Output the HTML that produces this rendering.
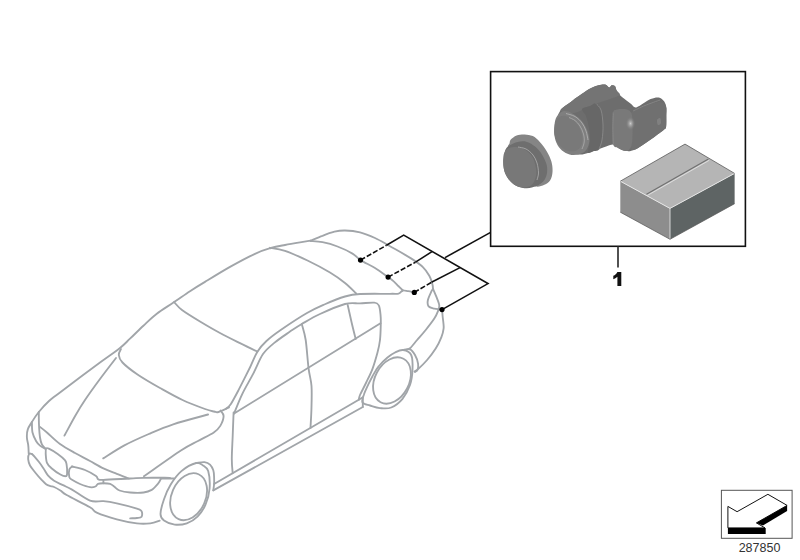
<!DOCTYPE html>
<html><head><meta charset="utf-8"><style>
html,body{margin:0;padding:0;background:#fff;width:800px;height:560px;overflow:hidden}
svg{display:block;position:absolute;left:0;top:0}
.t{font-family:"Liberation Sans",sans-serif}
</style></head><body>
<svg width="800" height="560" viewBox="0 0 800 560">
<defs>
<linearGradient id="gface" x1="0" y1="0" x2="1" y2="1"><stop offset="0" stop-color="#8a8a8a"/><stop offset="1" stop-color="#6a6a6a"/></linearGradient>
</defs>
<g fill="none" stroke="#a1a5a9" stroke-width="1.85" stroke-linecap="round" stroke-linejoin="round">
<path d="M28.7,453.4 C28.6,452.0 28.6,447.6 28.2,445.0 C27.9,442.4 27.0,440.1 26.9,437.5 C26.8,434.9 26.9,432.0 27.8,429.4 C28.6,426.8 30.1,424.9 31.9,422.0 C33.7,419.1 35.9,415.5 38.8,412.0 C41.6,408.5 45.5,404.2 49.0,401.0 C52.5,397.8 51.5,398.9 60.0,392.5 C68.5,386.1 90.0,369.9 100.0,362.5 C110.0,355.1 115.0,352.0 120.0,348.0 C125.0,344.0 126.1,342.4 130.0,338.7 C133.9,335.0 138.9,329.9 143.4,325.7 C147.9,321.5 151.7,317.6 156.8,313.7 C161.9,309.8 168.6,305.9 174.1,302.1 C179.6,298.4 184.8,294.6 190.0,291.2 C195.2,287.8 198.3,285.9 205.0,281.9 C211.7,277.8 221.7,271.6 230.0,266.9 C238.3,262.2 248.2,256.9 255.0,253.8 C261.8,250.6 266.0,249.5 271.0,248.0 C276.0,246.5 280.2,245.9 285.0,245.0 C289.8,244.1 295.8,243.1 300.0,242.4 C304.2,241.7 308.8,241.0 310.5,240.7"/>
<path d="M310.5,240.7 C312.5,239.9 318.5,237.2 322.5,235.8 C326.5,234.2 330.8,232.6 334.5,231.7 C338.2,230.8 340.8,230.4 345.0,230.5 C349.2,230.6 355.0,231.1 360.0,232.3 C365.0,233.6 370.0,235.7 375.0,238.0 C380.0,240.3 383.9,242.8 390.0,246.2 C396.1,249.7 405.9,255.1 411.4,258.6 C416.9,262.1 419.9,264.2 422.9,267.1 C425.9,270.0 427.8,273.1 429.3,275.7 C430.8,278.3 431.5,280.8 432.1,282.9 C432.7,285.0 433.0,287.2 432.9,288.6 C432.8,290.0 432.2,289.5 431.4,291.4 C430.6,293.3 428.4,297.5 427.9,300.0 C427.4,302.5 427.5,305.0 428.6,306.4 C429.7,307.8 432.4,308.1 434.3,308.6 C436.2,309.1 438.7,309.1 440.0,309.3 C441.3,309.5 441.8,309.6 442.1,309.7"/>
<path d="M432.9,288.6 C433.6,290.3 436.0,295.8 437.1,298.6 C438.2,301.5 439.2,303.6 439.3,305.7 C439.4,307.8 438.7,309.2 437.9,311.4 C437.1,313.5 436.3,315.5 434.3,318.6 C432.3,321.7 428.6,326.4 425.7,330.0 C422.8,333.6 419.7,337.0 417.1,340.0 C414.5,343.0 411.9,346.6 410.0,348.2 C408.1,349.8 406.2,349.5 405.5,349.8"/>
<path d="M442.1,309.7 C442.2,310.8 442.4,313.8 442.6,316.0 C442.8,318.2 443.2,320.9 443.4,323.0 C443.6,325.1 443.9,326.2 443.6,328.6 C443.3,331.0 442.7,333.8 441.4,337.1 C440.1,340.4 438.1,344.8 435.7,348.6 C433.3,352.4 430.0,356.7 427.1,360.0 C424.2,363.3 420.7,366.7 418.6,368.6 C416.5,370.5 415.2,370.9 414.5,371.4"/>
<path d="M310.5,241.0 C312.5,241.2 318.0,241.3 322.5,242.2 C327.0,243.1 332.5,244.6 337.5,246.5 C342.5,248.4 348.7,251.3 352.5,253.6 C356.3,255.9 356.8,257.7 360.5,260.1 C364.2,262.5 370.4,265.2 375.0,268.0 C379.6,270.8 384.9,274.9 388.0,277.1 C391.1,279.3 391.9,279.9 393.7,281.4 C395.5,282.9 397.1,284.9 398.6,286.3 C400.1,287.7 401.0,289.2 402.6,290.0 C404.2,290.8 406.2,290.8 408.2,291.2 C410.1,291.6 413.3,292.2 414.3,292.4"/>
<path d="M270.0,247.8 C272.5,248.2 278.8,248.6 285.0,250.8 C291.2,252.9 300.0,256.9 307.5,260.5 C315.0,264.1 323.8,268.8 330.0,272.5 C336.2,276.2 340.6,279.5 345.0,283.0 C349.4,286.5 354.4,291.8 356.2,293.5"/>
<path d="M226.1,408.7 C226.9,407.9 228.8,407.1 230.9,403.9 C233.0,400.7 235.7,395.5 238.9,389.4 C242.1,383.2 247.1,373.3 250.2,367.0 C253.3,360.7 254.7,356.0 257.4,351.7 C260.1,347.4 262.3,344.8 266.2,341.2 C270.1,337.6 273.9,334.7 280.7,330.0 C287.5,325.3 299.5,317.3 307.0,313.0 C314.5,308.7 319.2,306.8 325.5,304.0 C331.8,301.2 339.2,298.2 345.0,296.5 C350.8,294.8 352.5,294.4 360.0,294.0 C367.5,293.6 383.6,293.9 390.0,293.8 C396.4,293.7 396.7,294.0 398.6,293.6 C400.5,293.2 400.7,291.9 401.4,291.4 C402.1,290.9 402.6,290.8 402.9,290.7"/>
<path d="M234.1,413.5 C235.4,410.3 238.9,401.0 242.1,394.3 C245.3,387.6 249.9,380.1 253.4,373.4 C256.9,366.7 259.5,359.2 263.0,354.1 C266.5,349.0 269.8,346.6 274.3,342.9 C278.8,339.1 285.4,334.8 290.0,331.6 C294.6,328.5 296.8,326.9 301.8,324.0 C306.8,321.1 312.8,317.3 320.0,314.0 C327.2,310.7 338.3,305.8 345.0,304.0 C351.7,302.2 355.1,303.6 360.0,303.4 C364.9,303.2 371.2,302.4 374.3,302.7 C377.4,303.0 377.7,303.5 378.8,305.4 C379.8,307.3 380.2,311.3 380.5,314.3 C380.8,317.3 380.9,318.9 380.8,323.2 C380.7,327.5 380.6,335.1 380.0,340.0 C379.4,344.9 378.8,347.7 377.5,352.5 C376.2,357.3 374.4,363.8 372.5,368.8 C370.6,373.8 368.3,378.1 366.2,382.5 C364.2,386.9 361.2,392.1 360.0,395.0 C358.8,397.9 359.0,398.9 358.8,399.7"/>
<path d="M347.7,305.0 C348.3,307.8 350.2,316.3 351.5,322.0 C352.8,327.7 355.0,336.2 355.7,339.0"/>
<path d="M301.8,324.0 C302.4,326.7 304.6,332.6 305.7,340.0 C306.8,347.4 307.6,360.9 308.6,368.6 C309.6,376.3 311.0,379.1 311.5,386.0 C312.0,392.9 311.6,403.0 311.4,410.0 C311.2,417.0 310.6,424.9 310.5,427.9"/>
<path d="M234.1,413.5 L380.5,323.2"/>
<path d="M174.1,302.1 C175.4,303.4 177.7,306.8 182.0,310.0 C186.3,313.2 193.7,317.7 200.0,321.5 C206.3,325.3 213.3,329.4 220.0,333.0 C226.7,336.6 233.8,340.1 240.0,343.2 C246.2,346.3 254.5,350.3 257.4,351.7"/>
<path d="M121.0,349.0 C120.6,350.0 118.5,352.8 118.8,355.0 C119.0,357.2 119.4,359.2 122.5,362.5 C125.6,365.8 131.2,370.2 137.5,374.5 C143.8,378.8 152.5,383.8 160.0,388.0 C167.5,392.2 175.0,396.5 182.5,400.0 C190.0,403.5 199.8,407.1 205.0,409.0 C210.2,410.9 211.8,411.0 214.0,411.5 C216.2,412.0 216.0,412.7 218.5,412.0 C221.0,411.3 227.2,408.2 229.0,407.5"/>
<path d="M220.5,410.5 C221.0,411.4 223.6,413.5 223.6,416.1 C223.6,418.7 221.9,423.2 220.3,425.9 C218.7,428.6 217.5,429.9 213.8,432.4 C210.1,434.9 203.4,438.0 198.0,441.0 C192.6,444.0 190.3,444.4 181.3,450.3 C172.3,456.2 150.1,472.0 143.9,476.3"/>
<path d="M233.6,412.5 C233.4,416.4 233.0,428.0 232.7,435.7 C232.4,443.4 231.8,452.6 231.8,458.9 C231.8,465.1 232.5,470.8 232.7,473.2"/>
<path d="M214.1,484.0 L358.8,399.7 L362.8,397.3 L362.8,407.0"/>
<path d="M213.3,490.4 L362.8,407.0"/>
<path d="M403.1,350.0 C404.2,349.9 408.0,348.6 410.0,349.4 C412.0,350.2 413.6,352.6 415.0,355.0 C416.4,357.4 417.7,361.2 418.1,363.8 C418.5,366.2 418.0,368.6 417.5,370.0 C417.0,371.4 415.4,371.6 415.0,371.9"/>
<path d="M116.0,358.0 C113.3,361.5 105.2,372.0 100.0,379.0 C94.8,386.0 89.2,393.8 85.0,400.0 C80.8,406.2 78.4,410.3 75.0,416.2 C71.6,422.2 66.2,432.4 64.4,435.6"/>
<path d="M103.2,458.4 C106.8,456.2 116.8,449.5 124.4,445.4 C132.0,441.3 140.7,437.5 148.8,434.0 C156.9,430.5 163.3,427.6 173.2,424.3 C183.1,421.1 202.3,416.1 208.1,414.5"/>
<path d="M38.8,411.9 C38.8,414.1 38.8,420.7 39.0,425.0 C39.2,429.3 39.5,434.3 40.0,437.5 C40.5,440.7 41.0,442.5 41.9,444.4 C42.8,446.2 44.7,447.9 45.2,448.6"/>
<path d="M31.9,421.9 C32.0,423.7 31.8,429.3 32.5,432.5 C33.2,435.7 35.0,439.1 36.2,441.2 C37.5,443.4 38.5,444.4 40.0,445.6 C41.5,446.8 44.3,448.1 45.2,448.6"/>
<path d="M40.0,426.9 C41.2,427.9 44.2,430.1 47.5,433.0 C50.8,435.9 55.4,440.7 60.0,444.0 C64.6,447.3 70.0,450.2 75.0,453.0 C80.0,455.8 85.3,458.4 90.0,461.0 C94.7,463.6 98.9,466.3 103.4,468.4 C107.9,470.5 112.5,472.1 116.8,473.8 C121.0,475.5 126.9,477.7 128.9,478.5"/>
<path d="M46.1,448.6 C46.6,447.7 46.9,447.7 48.8,448.6 C50.7,449.5 55.0,452.0 57.7,453.9 C60.4,455.8 63.4,458.4 64.9,460.2 C66.4,462.0 66.2,462.4 66.6,464.6 C67.0,466.8 67.2,471.7 67.1,473.6 C67.0,475.5 66.9,476.1 65.8,476.2 C64.6,476.4 62.8,475.8 60.4,474.5 C58.0,473.2 53.7,470.1 51.5,468.2 C49.3,466.3 48.0,465.3 47.0,462.9 C46.0,460.5 45.9,456.3 45.7,453.9 C45.6,451.5 45.6,449.5 46.1,448.6Z"/>
<path d="M72.0,466.5 C74.2,467.1 81.0,468.4 85.0,470.0 C89.0,471.6 93.8,474.5 96.0,476.0 C98.2,477.5 96.8,478.5 98.0,479.1 C99.2,479.7 98.0,479.9 103.4,479.8 C108.8,479.7 123.5,478.8 130.2,478.5 C136.9,478.2 137.0,477.9 143.6,477.8 C150.2,477.7 165.6,477.8 170.0,477.8"/>
<path d="M72.0,466.5 C71.5,467.0 69.8,467.7 69.3,469.5 C68.8,471.3 68.8,475.4 69.3,477.1 C69.8,478.8 70.2,478.7 72.0,479.8 C73.8,480.9 77.0,482.8 80.0,484.0 C83.0,485.2 87.4,486.8 90.0,487.2 C92.6,487.6 94.1,487.1 95.4,486.5 C96.7,485.9 96.7,484.4 98.0,483.8 C99.3,483.2 101.4,483.2 103.4,483.2 C105.4,483.2 108.3,483.2 110.1,483.8 C111.9,484.4 112.5,485.4 114.1,486.5 C115.7,487.6 116.8,489.5 119.5,490.5 C122.2,491.5 126.2,492.2 130.2,492.5 C134.2,492.8 140.0,492.9 143.6,492.5 C147.2,492.1 149.2,491.4 151.7,489.9 C154.2,488.3 156.8,485.1 158.4,483.2 C160.0,481.3 160.6,479.3 161.0,478.5"/>
<path d="M103.4,479.8 C103.4,480.4 103.4,482.6 103.4,483.2"/>
<path d="M31.8,453.9 C32.2,454.3 33.3,455.2 34.5,456.6 C35.7,458.0 37.5,460.1 39.0,462.0 C40.5,463.9 41.9,466.0 43.4,468.2 C44.9,470.4 46.1,473.3 47.9,475.4 C49.7,477.5 51.6,479.1 54.1,480.7 C56.6,482.3 60.0,483.7 63.0,485.2 C66.0,486.7 67.5,487.0 72.0,489.6 C76.5,492.2 84.8,498.7 90.0,500.6 C95.2,502.5 98.9,500.8 103.4,501.2 C107.9,501.6 111.2,502.1 116.8,503.3 C122.4,504.5 132.8,507.3 136.9,508.6 C141.0,509.9 140.8,509.9 141.6,511.3 C142.4,512.6 142.4,515.6 141.6,516.7 C140.8,517.8 138.8,517.7 136.9,518.0 C135.0,518.3 131.3,518.2 130.2,518.3"/>
<path d="M31.8,453.9 C31.4,453.9 29.7,453.0 29.1,453.9 C28.5,454.8 28.1,457.4 28.2,459.3 C28.4,461.2 28.8,463.3 30.0,465.5 C31.2,467.7 33.5,470.3 35.4,472.7 C37.3,475.1 39.8,477.9 41.6,479.8 C43.4,481.7 44.6,483.2 46.1,484.3 C47.6,485.4 49.3,485.7 50.6,486.1 C51.9,486.6 52.5,486.3 54.1,487.0 C55.7,487.7 58.3,489.2 60.4,490.5 C62.5,491.8 61.7,492.2 66.6,495.0 C71.5,497.8 85.0,504.4 90.0,507.3 C95.0,510.2 92.2,510.6 96.7,512.6 C101.2,514.6 110.1,517.5 116.8,519.3 C123.5,521.1 131.3,522.7 136.9,523.4 C142.5,524.1 146.5,523.8 150.3,523.4 C154.1,523.0 158.1,521.2 159.7,520.7"/>
<path d="M196.4,463.0 C197.8,462.9 202.2,461.9 204.5,462.2 C206.8,462.5 208.5,463.2 210.0,464.6 C211.5,466.0 212.6,468.2 213.3,470.3 C214.0,472.4 214.0,475.2 214.1,477.5 C214.2,479.8 214.2,481.9 214.1,484.0 C214.0,486.1 213.4,489.3 213.3,490.4"/>
<path d="M161.0,478.5 C163.2,478.5 171.9,478.5 174.1,478.5"/>
<path d="M196.2,463.0 C199.8,462.1 201.0,464.1 203.0,465.5 C205.0,466.9 207.1,467.3 208.2,471.1 C209.3,474.9 210.0,482.9 209.6,488.5 C209.2,494.1 207.5,499.9 205.5,504.6 C203.5,509.3 200.6,513.5 197.5,516.6 C194.4,519.7 190.6,522.0 186.8,523.3 C183.0,524.6 178.5,525.0 174.7,524.6 C170.9,524.2 166.4,522.4 164.0,520.6 C161.6,518.8 160.5,517.6 160.5,514.0 C160.5,510.4 162.3,504.1 164.0,499.2 C165.7,494.3 167.8,489.2 170.7,484.5 C173.6,479.8 177.2,474.7 181.4,471.1 C185.7,467.5 192.6,463.9 196.2,463.0Z"/>
<path d="M403.1,350.0 C405.8,350.4 409.7,351.7 411.2,355.0 C412.8,358.3 412.7,365.0 412.5,370.0 C412.3,375.0 411.7,380.2 410.0,385.0 C408.3,389.8 405.6,395.0 402.5,398.8 C399.4,402.5 395.0,405.9 391.2,407.5 C387.5,409.1 383.5,408.4 380.0,408.1 C376.5,407.8 372.9,406.4 370.0,405.5 C367.1,404.6 363.5,404.2 362.5,402.5 C361.5,400.8 362.9,397.7 363.8,395.0 C364.6,392.3 366.0,389.4 367.5,386.2 C369.0,383.1 370.6,379.6 372.5,376.2 C374.4,372.9 376.2,369.4 378.8,366.2 C381.2,363.1 384.8,359.8 387.5,357.5 C390.2,355.2 392.4,353.8 395.0,352.5 C397.6,351.2 400.4,349.6 403.1,350.0Z"/>
<ellipse cx="188.6" cy="496.7" rx="17" ry="24.55" transform="rotate(24 188.6 496.7)"/>
<ellipse cx="392" cy="380.5" rx="17.05" ry="24.56" transform="rotate(27.85 392 380.5)"/>
</g>
<!-- CONNECTOR LINES -->
<g stroke="#111" stroke-width="1.6" fill="none">
<path d="M386.5,245.3 L403.7,235.1 L488,283.6 L442,309.6"/>
<path d="M415.5,262.2 L432,251.6"/>
<path d="M431.5,282.25 L460,267.6"/>
<path d="M445,257.6 L490.6,232.4"/>
<path d="M360.5,260.1 L386.5,245.3" stroke-dasharray="5.2 2"/>
<path d="M388.1,277.1 L415.5,262.2" stroke-dasharray="5.2 2"/>
<path d="M414.3,292.4 L431.5,282.25" stroke-dasharray="5.2 2"/>
</g>
<g fill="#000">
<circle cx="360.5" cy="260.1" r="2.6"/>
<circle cx="388.1" cy="277.1" r="2.6"/>
<circle cx="414.3" cy="292.4" r="2.6"/>
<circle cx="442" cy="309.6" r="2.6"/>
</g>
<!-- PARTS BOX -->
<rect x="490.6" y="71.6" width="254.8" height="174.7" fill="none" stroke="#111" stroke-width="1.6"/>
<line x1="618" y1="246.5" x2="618" y2="267.5" stroke="#333" stroke-width="1.7"/>
<path d="M617.4,272 L621.3,272 L621.3,286 L617.4,286 L617.4,276.8 C616.1,278 614.8,278.8 613.3,279.3 L613.3,275.8 C615.1,275.1 616.6,273.8 617.4,272 Z" fill="#111"/>
<!-- cap -->
<path d="M508.0,149.0 C507.1,144.9 509.0,145.1 509.5,143.5 C510.0,141.9 509.6,140.9 510.8,139.6 C512.0,138.3 514.3,136.4 516.6,135.5 C518.9,134.6 522.0,134.3 524.7,134.4 C527.4,134.5 530.3,134.8 532.8,136.1 C535.3,137.3 537.5,139.4 539.8,141.9 C542.1,144.4 544.8,147.9 546.7,151.2 C548.6,154.5 550.4,158.1 551.4,161.6 C552.4,165.1 552.7,169.0 552.5,172.1 C552.3,175.2 551.6,178.1 550.2,180.2 C548.9,182.3 546.7,183.7 544.4,184.8 C542.1,185.9 539.0,186.9 536.3,186.6 C533.6,186.3 531.5,186.1 528.0,183.0 C524.5,179.9 518.3,173.7 515.0,168.0 C511.7,162.3 508.9,153.1 508.0,149.0Z" fill="#858585"/>
<path d="M505.0,151.2 C506.0,147.3 507.5,146.9 509.6,145.4 C511.7,143.9 514.8,142.5 517.7,141.9 C520.6,141.3 524.1,141.1 527.0,141.9 C529.9,142.7 532.6,144.5 535.1,146.6 C537.6,148.7 540.2,151.6 542.1,154.7 C544.0,157.8 545.9,161.8 546.7,165.1 C547.5,168.4 547.3,171.7 546.7,174.4 C546.1,177.1 544.9,179.5 543.2,181.4 C541.5,183.3 539.0,184.8 536.3,186.0 C533.6,187.2 530.3,188.3 527.0,188.3 C523.7,188.3 519.7,187.6 516.6,186.0 C513.5,184.4 510.5,181.9 508.4,179.0 C506.3,176.1 504.4,173.2 503.8,168.6 C503.2,164.0 504.0,155.1 505.0,151.2Z" fill="#6e6e6e"/>
<path d="M505.0,151.2 C506.1,149.4 507.7,148.4 509.6,147.7 C511.5,147.0 514.1,146.8 516.6,147.1 C519.1,147.4 522.2,148.1 524.7,149.5 C527.2,150.9 529.9,153.4 531.6,155.8 C533.3,158.2 534.3,160.9 535.1,164.0 C535.9,167.1 536.7,171.1 536.3,174.4 C535.9,177.7 534.5,181.6 532.8,183.7 C531.0,185.8 528.5,186.8 525.8,187.2 C523.1,187.6 519.5,187.4 516.6,186.0 C513.7,184.6 510.5,181.9 508.4,179.0 C506.3,176.1 504.7,172.1 503.8,168.6 C502.9,165.1 503.0,161.1 503.2,158.2 C503.4,155.3 503.9,152.9 505.0,151.2Z" fill="#787878"/>
<path d="M518.0,147.0 C519.3,147.3 523.5,147.7 526.0,149.0 C528.5,150.3 531.2,152.7 533.0,155.0 C534.8,157.3 536.1,160.0 537.0,163.0 C537.9,166.0 538.5,170.2 538.5,173.0 C538.5,175.8 537.2,178.8 537.0,180.0" fill="none" stroke="#b0b0b0" stroke-width="0.8"/>
<!-- sensor -->
<path d="M560.4,110.5 C563.0,106.8 567.3,104.5 571.4,101.4 C575.5,98.3 581.6,94.0 585.0,91.8 C588.4,89.5 589.5,88.9 591.8,87.8 C594.0,86.7 596.4,85.8 598.6,85.3 C600.8,84.8 603.3,84.1 605.1,84.5 C606.9,84.9 608.1,87.4 609.2,87.5 C610.3,87.6 610.7,85.5 611.6,85.3 C612.5,85.1 614.1,85.3 614.9,86.1 C615.7,86.9 615.7,88.7 616.5,90.2 C617.3,91.7 618.4,93.5 619.8,95.0 C621.1,96.5 622.7,97.6 624.6,99.1 C626.5,100.6 629.1,102.6 631.1,104.0 C633.1,105.4 633.5,108.1 636.8,107.2 C640.0,106.4 646.9,100.7 650.6,99.1 C654.3,97.5 656.6,97.2 658.8,97.5 C660.9,97.8 662.4,99.3 663.6,100.8 C664.8,102.2 665.7,103.9 666.1,106.4 C666.5,108.9 666.3,112.6 666.3,116.0 C666.3,119.4 666.5,124.4 666.1,126.8 C665.7,129.1 666.3,127.8 663.6,130.0 C660.9,132.2 654.7,136.8 650.0,140.0 C645.3,143.2 639.2,147.7 635.2,149.5 C631.2,151.3 629.1,151.4 626.2,151.1 C623.4,150.8 620.3,149.0 618.1,147.9 C615.9,146.8 615.1,144.9 613.2,144.6 C611.4,144.3 610.0,145.2 606.8,146.2 C603.5,147.3 597.8,149.7 593.8,151.1 C589.7,152.5 586.2,154.0 582.4,154.4 C578.6,154.8 574.5,154.7 571.0,153.6 C567.5,152.5 564.0,151.0 561.2,147.9 C558.5,144.8 555.7,139.0 554.8,134.9 C553.8,130.8 554.7,127.6 555.6,123.5 C556.5,119.4 557.8,114.2 560.4,110.5Z" fill="#6d6d6d"/>
<path d="M560.4,110.5 C560.0,108.6 567.3,104.5 571.4,101.4 C575.5,98.3 581.6,94.0 585.0,91.8 C588.4,89.5 589.5,88.9 591.8,87.8 C594.0,86.7 596.4,85.8 598.6,85.3 C600.8,84.8 603.3,84.1 605.1,84.5 C606.9,84.9 608.1,87.4 609.2,87.5 C610.3,87.6 610.7,85.5 611.6,85.3 C612.5,85.1 614.1,85.3 614.9,86.1 C615.7,86.9 615.7,88.7 616.5,90.2 C617.3,91.7 620.8,93.5 619.8,95.0 C618.7,96.5 613.6,97.7 610.0,99.0 C606.4,100.3 602.0,101.5 598.0,103.0 C594.0,104.5 590.0,106.3 586.0,108.0 C582.0,109.7 578.3,112.6 574.0,113.0 C569.7,113.4 560.8,112.4 560.4,110.5Z" fill="#747474"/>
<path d="M582.0,109.0 C582.7,107.3 587.7,106.9 590.0,106.0 C592.3,105.1 594.2,102.8 596.0,103.5 C597.8,104.2 599.8,106.4 601.0,110.0 C602.2,113.6 602.8,120.0 603.0,125.0 C603.2,130.0 602.7,135.9 602.0,140.0 C601.3,144.1 600.4,147.7 599.0,149.5 C597.6,151.3 595.6,150.6 593.8,151.1 C591.9,151.6 588.6,154.2 588.0,152.5 C587.4,150.8 589.8,145.1 590.0,141.0 C590.2,136.9 589.7,132.2 589.0,128.0 C588.3,123.8 587.2,119.2 586.0,116.0 C584.8,112.8 581.3,110.7 582.0,109.0Z" fill="#676767"/>
<path d="M631.0,112.5 C633.1,110.2 640.2,107.8 645.0,106.0 C649.8,104.2 656.5,101.9 660.0,102.0 C663.5,102.1 665.1,104.1 666.1,106.4 C667.1,108.7 666.3,112.6 666.3,116.0 C666.3,119.4 666.5,124.4 666.1,126.8 C665.7,129.1 666.3,127.8 663.6,130.0 C660.9,132.2 654.7,136.8 650.0,140.0 C645.3,143.2 638.4,148.3 635.2,149.5 C632.0,150.7 631.5,148.9 631.0,147.0 C630.5,145.1 632.2,142.5 632.5,138.0 C632.8,133.5 632.8,124.2 632.5,120.0 C632.2,115.8 628.9,114.8 631.0,112.5Z" fill="#707070"/>
<path d="M613.2,112.5 C613.8,109.5 614.7,110.4 616.0,109.8 C617.3,109.2 619.2,109.0 621.0,109.0 C622.8,109.0 625.3,108.9 627.0,109.5 C628.7,110.1 630.1,110.8 631.0,112.5 C631.9,114.2 632.2,115.8 632.5,120.0 C632.8,124.2 632.8,133.5 632.5,138.0 C632.2,142.5 632.0,144.8 631.0,147.0 C630.0,149.2 628.4,150.9 626.2,151.1 C624.1,151.2 620.3,149.0 618.1,147.9 C615.9,146.8 614.1,147.9 613.2,144.6 C612.4,141.3 612.8,133.3 612.8,128.0 C612.8,122.7 612.7,115.5 613.2,112.5Z" fill="#797979"/>
<radialGradient id="hl" cx="0.5" cy="0.5" r="0.5"><stop offset="0" stop-color="#d5d5d5" stop-opacity="0.9"/><stop offset="0.5" stop-color="#a5a5a5" stop-opacity="0.5"/><stop offset="1" stop-color="#777" stop-opacity="0"/></radialGradient>
<ellipse cx="630.5" cy="123.5" rx="5" ry="7" fill="url(#hl)"/>
<path d="M633.0,111.0 C635.0,110.1 640.5,107.3 645.0,105.5 C649.5,103.7 657.5,100.9 660.0,100.0" fill="none" stroke="#858585" stroke-width="1"/>
<path d="M613.2,112.5 C613.2,115.1 612.8,122.7 612.8,128.0 C612.8,133.3 613.2,141.8 613.2,144.6" fill="none" stroke="#8f8f8f" stroke-width="0.7"/>
<path d="M556.0,118.0 C557.3,115.3 560.0,112.6 562.0,111.5 C564.0,110.4 565.9,111.0 568.0,111.5 C570.1,112.0 572.2,113.1 574.6,114.8 C577.0,116.5 580.3,119.1 582.4,121.7 C584.5,124.3 586.1,127.4 587.3,130.5 C588.4,133.6 589.3,137.5 589.3,140.4 C589.3,143.3 588.4,146.1 587.3,148.2 C586.1,150.3 584.7,151.9 582.4,153.1 C580.1,154.2 576.4,155.1 573.6,155.1 C570.8,155.1 568.2,154.3 565.7,153.0 C563.2,151.7 560.6,149.5 558.8,147.0 C557.0,144.5 555.6,141.2 554.9,138.0 C554.2,134.8 554.2,130.9 554.4,127.6 C554.6,124.3 554.7,120.7 556.0,118.0Z" fill="#7f7f7f"/>
<path d="M566.0,113.5 C567.5,114.0 572.3,114.9 575.0,116.5 C577.7,118.1 580.2,120.6 582.0,123.0 C583.8,125.4 585.0,128.2 586.0,131.0 C587.0,133.8 587.7,138.5 588.0,140.0" fill="none" stroke="#b5b5b5" stroke-width="0.8"/>
<path d="M555.9,120.7 C556.8,118.9 558.3,117.6 559.8,116.8 C561.3,116.0 562.7,115.5 564.7,115.8 C566.7,116.1 569.5,117.3 571.6,118.8 C573.7,120.3 575.9,122.3 577.5,124.6 C579.1,126.9 580.6,129.7 581.4,132.5 C582.2,135.3 582.7,138.7 582.4,141.3 C582.1,143.9 581.0,146.5 579.5,148.2 C578.0,149.8 575.9,150.9 573.6,151.2 C571.3,151.5 568.2,151.3 565.7,150.2 C563.2,149.0 560.6,146.6 558.8,144.3 C557.0,142.0 555.6,139.2 554.9,136.4 C554.2,133.6 554.2,130.2 554.4,127.6 C554.6,125.0 555.0,122.5 555.9,120.7Z" fill="#797979"/>
<path d="M569.0,117.5 C570.0,118.0 573.2,119.1 575.0,120.5 C576.8,121.9 578.6,123.8 580.0,126.0 C581.4,128.2 582.8,131.3 583.5,134.0 C584.2,136.7 584.5,139.5 584.2,142.0 C584.0,144.5 582.4,147.8 582.0,149.0" fill="none" stroke="#a8a8a8" stroke-width="0.9"/>
<path d="M596.0,103.5 C596.8,104.6 599.8,106.4 601.0,110.0 C602.2,113.6 602.8,120.0 603.0,125.0 C603.2,130.0 602.7,135.9 602.0,140.0 C601.3,144.1 599.5,147.9 599.0,149.5" fill="none" stroke="#8e8e8e" stroke-width="0.8"/>
<path d="M657.0,120.0 C657.3,118.8 659.3,117.5 660.0,118.0 C660.7,118.5 661.3,121.8 661.0,123.0 C660.7,124.2 658.7,125.5 658.0,125.0 C657.3,124.5 656.7,121.2 657.0,120.0Z" fill="#8a8a8a" opacity="0.6"/>
<!-- box -->
<g>
<polygon points="685,144.1 734.6,173.4 670,208.4 620.3,181.2" fill="#b5b5b5"/>
<polygon points="620.3,181.2 670,208.4 670,239.3 620.3,212.2" fill="#8d8d8d"/>
<polygon points="670,208.4 734.6,173.4 734.6,203.7 670,239.3" fill="#5e6464"/>
<polyline points="620.3,181.2 670,208.4 734.6,173.4" fill="none" stroke="#e6e6e6" stroke-width="1"/>
<line x1="670" y1="208.4" x2="670" y2="239.3" stroke="#e0e0e0" stroke-width="0.9"/>
<polyline points="620.3,181.2 685,144.1 734.6,173.4" fill="none" stroke="#5a5a5a" stroke-width="0.8"/>
<line x1="646.5" y1="194.3" x2="708.4" y2="159.1" stroke="#707070" stroke-width="1.1"/>
<line x1="647.3" y1="195.5" x2="709.2" y2="160.3" stroke="#e8e8e8" stroke-width="0.8"/>
<polyline points="620.3,212.2 670,239.3 734.6,203.7" fill="none" stroke="#555" stroke-width="0.7"/>
</g>
<!-- ARROW ICON -->
<rect x="721.4" y="490.3" width="70.7" height="48" fill="none" stroke="#555" stroke-width="1"/>
<path d="M727.9,506.4 L737.1,511.7 L767.9,494.3 L787.1,505.4 L756.4,522.9 L765,527.9 L727.9,527.9 Z" fill="#fff" stroke="#111" stroke-width="1"/>
<polygon points="727.9,527.9 765.7,527.9 765.7,534 727.9,534" fill="#000"/>
<polygon points="787.1,505.4 787.1,511.1 762.9,525.4 756.4,522.9" fill="#000"/>
<text x="759.5" y="552" class="t" font-size="12.5" text-anchor="middle" fill="#333">287850</text>
</svg>
</body></html>
